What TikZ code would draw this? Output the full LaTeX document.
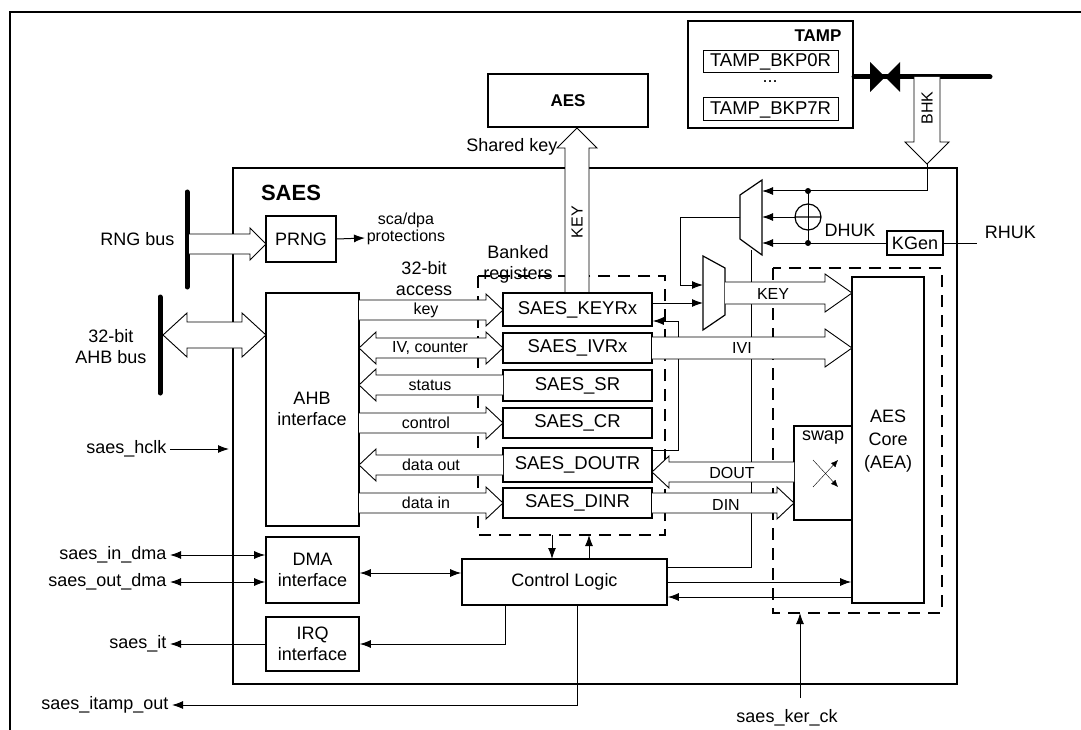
\documentclass[tikz,border=0pt]{standalone}
\usepackage{fontspec}
\setmainfont{Liberation Sans}
\usetikzlibrary{arrows.meta,fit,calc}

\newcommand{\fs}[2]{\fontsize{#1}{#2}\selectfont}
% wide bus arrows: tail, tip, centre, half shaft, half head, head length
\newcommand{\fatR}[6]{\filldraw[fat] (#1,{#3-#4}) -- ({#2-#6},{#3-#4}) -- ({#2-#6},{#3-#5}) -- (#2,#3) -- ({#2-#6},{#3+#5}) -- ({#2-#6},{#3+#4}) -- (#1,{#3+#4});}
\newcommand{\fatL}[6]{\filldraw[fat] (#1,{#3-#4}) -- ({#2+#6},{#3-#4}) -- ({#2+#6},{#3-#5}) -- (#2,#3) -- ({#2+#6},{#3+#5}) -- ({#2+#6},{#3+#4}) -- (#1,{#3+#4});}
\newcommand{\fatLR}[6]{\filldraw[fat] ({#1+#6},{#3-#4}) -- ({#2-#6},{#3-#4}) -- ({#2-#6},{#3-#5}) -- (#2,#3) -- ({#2-#6},{#3+#5}) -- ({#2-#6},{#3+#4}) -- ({#1+#6},{#3+#4}) -- ({#1+#6},{#3+#5}) -- (#1,#3) -- ({#1+#6},{#3-#5}) -- cycle;}
\newcommand{\fatV}[6]{\filldraw[fat] ({#3-#4},#1) -- ({#3-#4},{#2-#6}) -- ({#3-#5},{#2-#6}) -- (#3,#2) -- ({#3+#5},{#2-#6}) -- ({#3+#4},{#2-#6}) -- ({#3+#4},#1);}

\begin{document}
\begin{tikzpicture}[x=1pt,y=-1pt,
    box/.style={draw, line width=1.6pt, fill=white, inner sep=0pt},
    lbl/.style={font=\fs{18}{21}, align=center},
    reg/.style={font=\fs{18.5}{21}},
    fat/.style={fill=white, line width=0.9pt},
    conn/.style={line width=1pt, -{Latex[length=11pt,width=8pt]}},
    both/.style={line width=1pt, {Latex[length=11pt,width=8pt]}-{Latex[length=11pt,width=8pt]}},
    small/.style={font=\fs{16}{17}, align=center},
    bus/.style={line width=5pt, line cap=round},
    dashbox/.style={line width=1.6pt, dash pattern=on 12pt off 8pt}]
  \useasboundingbox (0,0) rectangle (1081,730);

  % frames
  \draw[line width=1.6pt] (10,12) rectangle (1100,760);
  \draw[line width=2.2pt] (233,168) rectangle (957,684);
  \node[font=\bfseries\fs{22}{24}] at (291,193) {SAES};

  % TAMP and AES
  \node[box, line width=2.2pt, fit={(688,21) (853,128)}] (tamp) {};
  \node[font=\bfseries\fs{17}{20}, anchor=east] at (845,36) {TAMP};
  \node[box, line width=1pt, fit={(703,51) (838,73)}] (bkp0) {};
  \node[reg] at (bkp0) {TAMP\_BKP0R};
  \node[lbl] at (770,82) {...};
  \node[box, line width=1pt, fit={(703,98) (838,121)}] (bkp7) {};
  \node[reg] at (bkp7) {TAMP\_BKP7R};
  \node[box, line width=2.2pt, fit={(488,74) (648,127)}] (aes) {};
  \node[font=\bfseries\fs{17}{20}] at (aes) {AES};
  \draw[bus] (tamp.east |- 0,77) -- (990,77);
  \fill (870,62) -- (870,92) -- (900,62) -- (900,92) -- cycle;
  \fatV{77}{164}{927}{13}{22}{22}
  \node[small, rotate=90] at (927,108) {BHK};

  % left side
  \node[box, fit={(266,216) (336,262)}] (prng) {};
  \node[lbl] at (prng) {PRNG};
  \node[box, fit={(266,293) (359,526)}] (ahb) {};
  \node[lbl] at (312,409) {AHB\\interface};
  \node[box, fit={(266,537) (359,603)}] (dma) {};
  \node[lbl] at (dma) {DMA\\interface};
  \node[box, fit={(266,617) (359,671)}] (irq) {};
  \node[lbl] at (irq) {IRQ\\interface};
  \draw[bus] (187,192) -- (187,287);
  \node[lbl, anchor=east] at (178,239) {RNG bus};
  \fatR{189}{266}{244}{10}{16}{16}
  \draw[conn] (prng.east) -- (365,238) node[right, small, xshift=-2pt, yshift=9pt] {sca/dpa\\protections};
  \draw[bus] (160,297) -- (160,393);
  \node[lbl, anchor=east] at (150,347) {32-bit\\AHB bus};
  \fatLR{163}{266}{335}{13}{22}{24}
  \node[lbl, anchor=east] (hclk) at (170,449) {saes\_hclk};
  \draw[conn] (hclk.east) -- (229,449);
  \node[lbl, anchor=east] (indma) at (170,555) {saes\_in\_dma};
  \node[lbl, anchor=east] (outdma) at (170,582) {saes\_out\_dma};
  \node[lbl, anchor=east] (sit) at (170,644) {saes\_it};
  \node[lbl, anchor=east] (itamp) at (172,705) {saes\_itamp\_out};
  \draw[both] (indma.east) -- (indma.east -| dma.west);
  \draw[both] (outdma.east) -- (outdma.east -| dma.west);
  \draw[conn] (irq.west |- sit.east) -- (sit.east);

  % banked registers
  \draw[dashbox] (478,276) rectangle (665,535);
  \fatV{293}{128}{577}{12}{20}{-20}
  \node[small, rotate=90] at (577,222) {KEY};
  \node[lbl, anchor=east] at (561,147) {Shared key};
  \node[lbl] at (518,264) {Banked\\registers};
  \node[lbl] at (424,279) {32-bit\\access};
  \foreach \nm/\ya/\yb/\tx in {keyr/293/326/SAES\_KEYRx, ivr/333/363/SAES\_IVRx, sr/370/401/SAES\_SR,
      cr/408/438/SAES\_CR, doutr/448/482/SAES\_DOUTR, dinr/488/518/SAES\_DINR}{
    \node[box, fit={(503,\ya) (652,\yb)}] (\nm) {};
    \node[reg] at (\nm) {\tx};
  }
  \fatR{359}{503}{310}{10}{16}{17} \node[small] at (426,310) {key};
  \fatLR{359}{503}{348}{10}{16}{17} \node[small] at (430,348) {IV, counter};
  \fatL{503}{359}{385}{10}{16}{17} \node[small] at (430,385) {status};
  \fatR{359}{503}{423}{10}{16}{17} \node[small] at (426,423) {control};
  \fatL{503}{359}{465}{10}{16}{17} \node[small] at (431,465) {data out};
  \fatR{359}{503}{503}{10}{16}{17} \node[small] at (426,503) {data in};

  % control logic
  \node[box, fit={(462,559) (667,605)}] (ctl) {};
  \node[lbl] at (ctl) {Control Logic};
  \draw[both] (dma.east |- 0,573) -- (ctl.west |- 0,573);
  \draw[conn] (552,535) -- (552 ,559);
  \draw[conn] (589,559) -- (589,535);
  \draw[conn] (505,605) |- (irq.east |- 0,644);
  \draw[conn] (577,605) |- (itamp.east);

  % key selection
  \draw[line width=1.2pt, fill=white] (740,195) -- (762,180) -- (762,255) -- (740,239) -- cycle;
  \draw[line width=1.2pt, fill=white] (703,256) -- (725,268) -- (725,315) -- (703,330) -- cycle;
  \node[box, line width=1.2pt, fit={(887,231) (943,255)}] (kgen) {};
  \node[lbl] at (kgen) {KGen};
  \draw[line width=1pt] (kgen.east) -- (977,243) node[lbl, above right, xshift=4pt] {RHUK};
  \node[lbl] at (850,230) {DHUK};
  \draw[conn] (927,164) |- (762,191);
  \draw[conn] (kgen.west) -- (762,243);
  \draw[line width=1pt] (808,191) -- (808,243);
  \draw[line width=1.2pt] (808,217) circle (13) (795,217) -- (821,217);
  \draw[conn] (795,217) -- (762,217);
  \fill (808,191) circle (3) (808,243) circle (3);
  \draw[conn] (740,217) -| (680,285) -- (703,285);
  \draw[conn] (keyr.east |- 0,303) -- (703,303);
  \draw[conn] (doutr.east |- 0,450) -| (678,321) -- (keyr.east |- 0,321);
  \draw[line width=1pt] (751,250) |- (ctl.east |- 0,567);

  % AES core
  \draw[dashbox] (773,268) rectangle (942,613);
  \node[box, line width=1.6pt, fit={(852,277) (924,603)}] (core) {};
  \node[lbl, font=\fs{18}{23}] at (888,441) {AES\\Core\\(AEA)};
  \node[box, line width=1.2pt, fit={(794,426) (852,520)}] (swap) {};
  \node[lbl] at (823,438) {swap};
  \draw[-{Latex[length=7pt,width=6pt]}] (813,487) -- (838,460);
  \draw[-{Latex[length=7pt,width=6pt]}] (813,460) -- (838,487);
  \fatR{725}{852}{293}{11}{19}{27} \node[small] at (773,294) {KEY};
  \fatR{652}{852}{348}{11}{19}{27} \node[small] at (742,348) {IVI};
  \fatL{794}{652}{472}{10}{16}{17} \node[small] at (732,473) {DOUT};
  \fatR{652}{794}{503}{10}{16}{17} \node[small] at (726,505) {DIN};
  \draw[conn] (ctl.east |- 0,582) -- (core.west |- 0,582);
  \draw[conn] (core.west |- 0,597) -- (ctl.east |- 0,597);
  \node[lbl] (kerck) at (787,718) {saes\_ker\_ck};
  \draw[conn] (800,698) -- (800,613);
\end{tikzpicture}
\end{document}
